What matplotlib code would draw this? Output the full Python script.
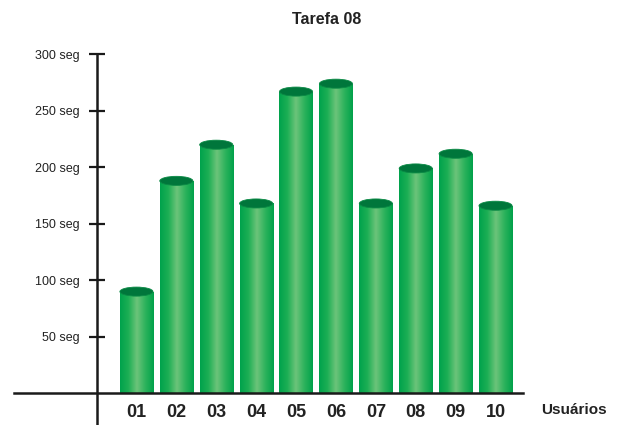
import numpy as np
import matplotlib.pyplot as plt
from matplotlib.patches import Ellipse
from matplotlib.colors import LinearSegmentedColormap

# ─── DATA ─────────────────────────────────────────────────
usuarios  = ["01", "02", "03", "04", "05", "06", "07", "08", "09", "10"]
tempos    = [90, 188, 220, 168, 267, 274, 168, 199, 212, 166]
y_ticks   = [50, 100, 150, 200, 250, 300]
y_labels  = ["50 seg", "100 seg", "150 seg", "200 seg", "250 seg", "300 seg"]
titulo    = "Tarefa 08"
x_titulo  = "Usuários"

# ─── STYLE ────────────────────────────────────────────────
plt.rcParams['font.family'] = ['Liberation Sans', 'DejaVu Sans']
BAR_W   = 0.83
TOP_H   = 8.0
cyl_cmap = LinearSegmentedColormap.from_list(
    "cyl", ["#00a24c", "#1daf55", "#6cc47a", "#2cb35c", "#00a14b"])
TOP_COL = "#00763b"

fig = plt.figure(figsize=(6.22, 4.25), dpi=100)
ax = fig.add_axes([0, 0, 1, 1])
ax.set_xlim(-3.42, 12.17)
ax.set_ylim(-28.05, 348.05)

x = np.arange(len(usuarios))
grad = np.linspace(0, 1, 256).reshape(1, -1)

for xi, h in zip(x, tempos):
    bar = ax.bar(xi, h, width=BAR_W, color="#00a651", linewidth=0, zorder=2)[0]
    im = ax.imshow(grad, cmap=cyl_cmap, aspect="auto", zorder=2.1,
                   extent=[xi - BAR_W / 2, xi + BAR_W / 2, 0, h])
    im.set_clip_path(bar)
    ax.add_patch(Ellipse((xi, h), BAR_W, TOP_H, facecolor=TOP_COL,
                         edgecolor="#0a8a45", linewidth=0.6, zorder=3))

# axes lines crossing each other
ax.spines[["top", "right"]].set_visible(False)
ax.spines["left"].set_position(("data", -0.99))
ax.spines["left"].set_bounds(-28.05, 300)
ax.spines["bottom"].set_position(("data", 0))
ax.spines["bottom"].set_bounds(-3.07, 9.68)
for s in ["left", "bottom"]:
    ax.spines[s].set_linewidth(1.8)
    ax.spines[s].set_color("#1a1a1a")
    ax.spines[s].set_zorder(4)

ax.set_yticks(y_ticks, y_labels, fontsize=9, color="#222222")
ax.tick_params(axis="y", direction="inout", length=11, width=1.6,
               color="#1a1a1a", pad=7)
ax.set_xticks(x, usuarios, fontsize=13, fontweight="bold", color="#222222")
ax.tick_params(axis="x", length=0, pad=8)

ax.text(326.5 / 622, 1 - 20 / 425, titulo, transform=fig.transFigure,
        ha="center", va="center", fontsize=11.5, fontweight="bold",
        color="#222222")
ax.text(574 / 622, 1 - 410 / 425, x_titulo, transform=fig.transFigure,
        ha="center", va="center", fontsize=11, fontweight="bold",
        color="#222222")

plt.savefig("out.png", dpi=100)
